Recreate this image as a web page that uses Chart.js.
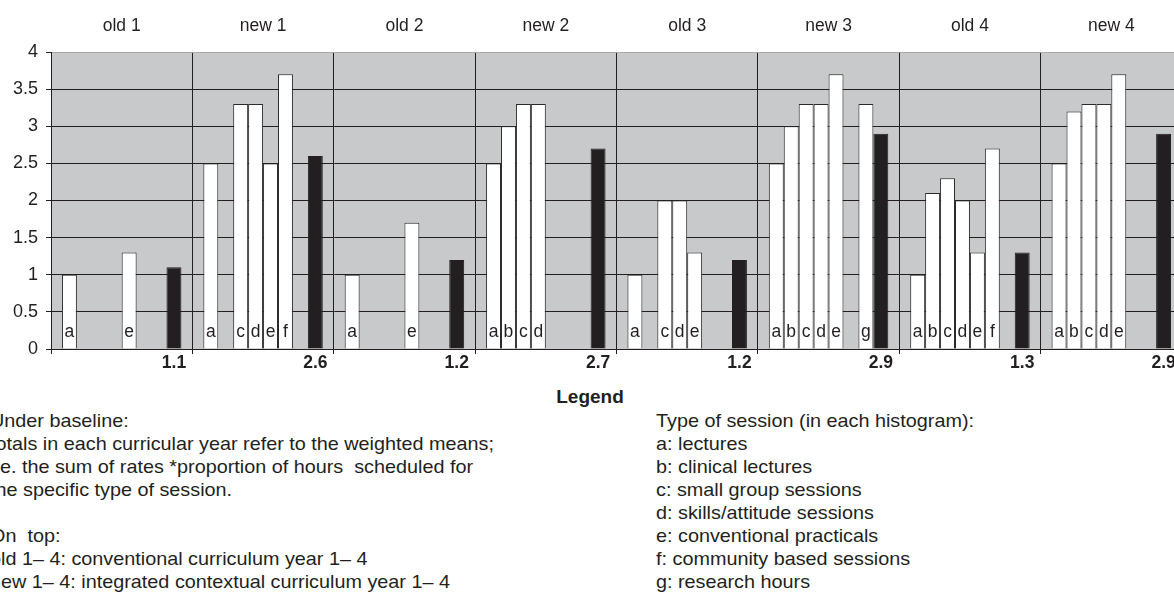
<!DOCTYPE html>
<html>
<head>
<meta charset="utf-8">
<script src="https://cdn.jsdelivr.net/npm/chart.js@4.4.0/dist/chart.umd.min.js"></script>
<style>
  html, body { margin: 0; padding: 0; background: #fff; overflow: hidden; }
  body { width: 1174px; height: 592px; position: relative; font-family: "Liberation Sans", Arial, sans-serif; color: #231f20; }
  #wrap { position: absolute; left: 0; top: 0; width: 1182px; height: 380px; }
  .note { position: absolute; font-size: 18.5px; line-height: 23px; white-space: pre; transform: scaleX(1.07); transform-origin: left top; }
  #legendTitle { position: absolute; left: 490px; width: 200px; top: 386px; text-align: center; font-weight: bold; font-size: 19px; }
</style>
</head>
<body>
<div id="wrap"><canvas id="chart"></canvas></div>
<div id="legendTitle">Legend</div>
<div class="note" style="left:-10px; top:409px;">Under baseline:
totals in each curricular year refer to the weighted means;
i.e. the sum of rates *proportion of hours  scheduled for
the specific type of session.

On  top:
old 1– 4: conventional curriculum year 1– 4
new 1– 4: integrated contextual curriculum year 1– 4</div>
<div class="note" style="left:656px; top:409px;">Type of session (in each histogram):
a: lectures
b: clinical lectures
c: small group sessions
d: skills/attitude sessions
e: conventional practicals
f: community based sessions
g: research hours</div>

<script>
// curricular years
const groups = ["old 1", "new 1", "old 2", "new 2", "old 3", "new 3", "old 4", "new 4"];
// type of session
const sessionTypes = ["a", "b", "c", "d", "e", "f", "g"];

// rates per session type (null = no such session that year)
const rateA = [1.0, 2.5, 1.0, 2.5, 1.0, 2.5, 1.0, 2.5];
const rateB = [null, null, null, 3.0, null, 3.0, 2.1, 3.2];
const rateC = [null, 3.3, null, 3.3, 2.0, 3.3, 2.3, 3.3];
const rateD = [null, 3.3, null, 3.3, 2.0, 3.3, 2.0, 3.3];
const rateE = [1.3, 2.5, 1.7, null, 1.3, 3.7, 1.3, 3.7];
const rateF = [null, 3.7, null, null, null, null, 2.7, null];
const rateG = [null, null, null, null, null, 3.3, null, null];
// weighted means
const totals = [1.1, 2.6, 1.2, 2.7, 1.2, 2.9, 1.3, 2.9];

const yTicks = { min: 0, max: 4, step: 0.5 };

const rates = [rateA, rateB, rateC, rateD, rateE, rateF, rateG];
const ink = "#231f20";
const fam = '"Liberation Sans", Arial, sans-serif';

const datasets = sessionTypes.map((t, i) => ({
  label: t,
  data: rates[i],
  backgroundColor: "#ffffff",
  borderColor: "#2b2b2b",
  borderWidth: 1
}));
datasets.push({
  label: "total",
  data: totals,
  backgroundColor: ink,
  borderColor: ink,
  borderWidth: 1
});

const decorPlugin = {
  id: "decor",
  beforeDraw(chart) {
    const { ctx, chartArea: a } = chart;
    ctx.save();
    ctx.fillStyle = "#c8c9cb";
    ctx.fillRect(a.left, a.top, a.right - a.left, a.bottom - a.top);
    ctx.restore();
  },
  afterDatasetsDraw(chart) {
    const { ctx, chartArea: a } = chart;
    const base = chart.scales.y.getPixelForValue(0);
    ctx.save();
    ctx.fillStyle = ink;
    ctx.textAlign = "center";
    ctx.textBaseline = "middle";
    ctx.font = "17.5px " + fam;
    for (let d = 0; d < sessionTypes.length; d++) {
      const meta = chart.getDatasetMeta(d);
      meta.data.forEach((bar, i) => {
        if (rates[d][i] == null) return;
        ctx.fillText(sessionTypes[d], bar.x, base - 17);
      });
    }
    // totals under the baseline
    ctx.font = "bold 17.5px " + fam;
    const tmeta = chart.getDatasetMeta(sessionTypes.length);
    tmeta.data.forEach((bar, i) => {
      ctx.fillText(totals[i].toFixed(1), bar.x, a.bottom + 14);
    });
    ctx.restore();
  }
};

new Chart(document.getElementById("chart"), {
  type: "bar",
  data: { labels: groups, datasets },
  options: {
    responsive: true,
    maintainAspectRatio: false,
    animation: false,
    categoryPercentage: 0.845,
    barPercentage: 1,
    layout: { padding: 0 },
    plugins: {
      legend: { display: false },
      tooltip: { enabled: false }
    },
    scales: {
      x: {
        offset: true,
        grid: { offset: true, color: ink, tickLength: 5, lineWidth: 1 },
        border: { color: ink },
        ticks: { display: false },
        afterFit: (axis) => { axis.height = 31; }
      },
      x2: {
        type: "category",
        position: "top",
        offset: true,
        grid: { display: false, drawTicks: false },
        border: { display: false },
        ticks: { color: ink, font: { size: 17.5, family: fam }, padding: 15 },
        afterFit: (axis) => { axis.height = 52; }
      },
      y: {
        min: yTicks.min,
        max: yTicks.max,
        ticks: {
          stepSize: yTicks.step,
          color: ink,
          padding: 8,
          font: { size: 18, family: fam },
          callback: (v) => String(v)
        },
        grid: {
          color: (c) => (c.tick && c.tick.value === yTicks.max ? "#a9a9a9" : ink),
          tickColor: ink,
          tickLength: 5
        },
        border: { color: ink },
        afterFit: (axis) => { axis.width = 51; }
      }
    }
  },
  plugins: [decorPlugin]
});
</script>
</body>
</html>
